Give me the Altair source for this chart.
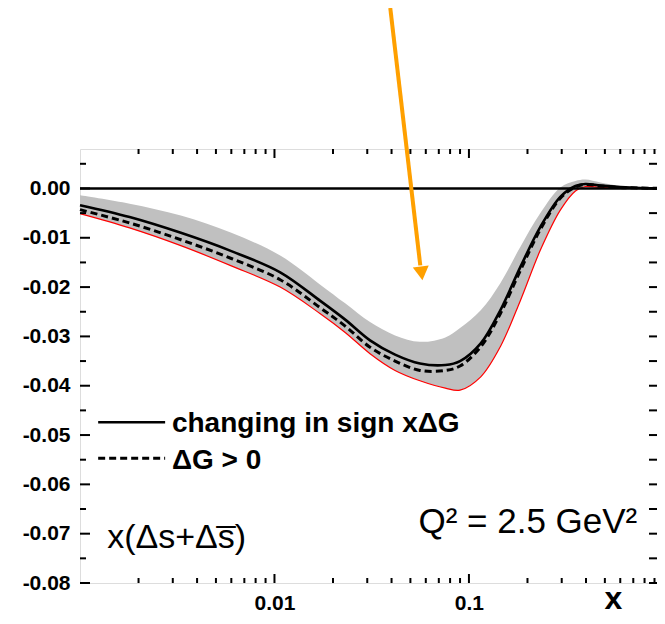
import altair as alt
import pandas as pd

FONT = "Liberation Sans"
W, H = 577, 434

# ---- curve data ----
x_vals = [0.001, 0.0018, 0.0033, 0.006, 0.0107, 0.0172, 0.0231, 0.031, 0.0417, 0.056, 0.0756, 0.09,
          0.115, 0.145, 0.184, 0.233, 0.295, 0.353, 0.397, 0.475, 0.60, 0.76, 1.0]
band_upper = [-0.0014, -0.0031, -0.0055, -0.0090, -0.0136, -0.0195, -0.0233, -0.0271, -0.0298, -0.0311, -0.0302,
              -0.0283, -0.0247, -0.0192, -0.0118, -0.0050, 0.0002, 0.0015, 0.0018, 0.0012, 0.0005, 0.0001, 0.0]
solid_vals = [-0.0034, -0.0058, -0.0090, -0.0127, -0.0170, -0.0228, -0.0266, -0.0308, -0.0337, -0.0355, -0.0358,
              -0.0350, -0.0314, -0.0247, -0.0159, -0.0078, -0.0017, 0.0005, 0.0009, 0.0006, 0.0003, 0.0001, 0.0]
dashed_vals = [-0.0043, -0.0070, -0.0104, -0.0142, -0.0185, -0.0242, -0.0279, -0.0322, -0.0350, -0.0369, -0.0369,
               -0.0360, -0.0321, -0.0254, -0.0166, -0.0083, -0.0020, 0.0003, 0.0008, 0.0005, 0.0002, 0.0001, 0.0]
band_lower = [-0.0051, -0.0080, -0.0116, -0.0157, -0.0200, -0.0254, -0.0292, -0.0335, -0.0369, -0.0390, -0.0405,
              -0.0409, -0.0382, -0.0321, -0.0227, -0.0125, -0.0044, -0.0005, 0.0004, 0.0002, 0.0, 0.0, 0.0]

# ---- axis ticks ----
y_labels = [-0.08, -0.07, -0.06, -0.05, -0.04, -0.03, -0.02, -0.01, 0.0]
y_minor = [-0.075, -0.065, -0.055, -0.045, -0.035, -0.025, -0.015, -0.005, 0.005]
x_labels = [0.01, 0.1]
x_major = [0.01, 0.1]
x_minor = [0.002, 0.003, 0.004, 0.005, 0.006, 0.007, 0.008, 0.009,
           0.02, 0.03, 0.04, 0.05, 0.06, 0.07, 0.08, 0.09,
           0.2, 0.3, 0.4, 0.5, 0.6, 0.7, 0.8, 0.9]

# ---- legend / annotations ----
legend_x0 = [0.00124, 0.00124]
legend_x1 = [0.00274, 0.00274]
legend_y = [-0.0474, -0.0547]
legend_text = ["changing in sign x\u0394G", "\u0394G > 0"]
legend_text_x = [0.00297, 0.00297]
legend_text_y = [-0.0478, -0.0553]

annot_text = ["x(\u0394s+\u0394s\u0305)", "Q\u00b2 = 2.5 GeV\u00b2"]
annot_x = [0.00138, 0.055]
annot_y = [-0.0730, -0.0699]

arrow_x = [0.0394, 0.0562]
arrow_y = [0.0366, -0.0156]
arrow_head_x = [0.0571]
arrow_head_y = [-0.0172]

xs = alt.Scale(type="log", domain=[0.001, 0.927], nice=False)
ys = alt.Scale(domain=[-0.08, 0.008], nice=False, zero=False)

x_axis = alt.Axis(values=x_labels, format="g", ticks=False, tickSize=0, domain=False, grid=False,
                  labelFont=FONT, labelFontSize=21, labelFontWeight="bold", labelColor="black",
                  labelPadding=9, labelFlush=False, title="x", titleFont=FONT, titleFontSize=32,
                  titleFontWeight="bold", titleColor="black", titleX=533, titleY=25,
                  titleBaseline="alphabetic", titleAlign="center")
y_axis = alt.Axis(values=y_labels, ticks=False, tickSize=0, domain=False, grid=False,
                  labelExpr="replace(format(datum.value, '.2f'), '\u2212', '-')",
                  labelFont=FONT, labelFontSize=21, labelFontWeight="bold", labelColor="black",
                  labelPadding=10, title=None)


def X(field="x"):
    return alt.X(f"{field}:Q", scale=xs, axis=x_axis)


def Y(field="y"):
    return alt.Y(f"{field}:Q", scale=ys, axis=y_axis)


curves = pd.DataFrame({"x": x_vals, "up": band_upper, "lo": band_lower,
                       "solid": solid_vals, "dashed": dashed_vals})
INTERP = "catmull-rom"
base = alt.Chart(curves)
band = base.mark_area(color="#c0c0c0", interpolate=INTERP).encode(x=X(), y=Y("up"), y2="lo:Q")
red = base.mark_line(color="#ff0000", strokeWidth=1.2, interpolate=INTERP).encode(x=X(), y=Y("lo"))
zero = alt.Chart(pd.DataFrame({"y": [0.0]})).mark_rule(color="black", strokeWidth=2.5).encode(y=Y())
solid = base.mark_line(color="black", strokeWidth=2.6, interpolate=INTERP).encode(x=X(), y=Y("solid"))
dashed = base.mark_line(color="black", strokeWidth=3, strokeDash=[7, 4], interpolate=INTERP).encode(
    x=X(), y=Y("dashed"))


# ticks pointing inward
def xticks(vals, length):
    d = alt.Chart(pd.DataFrame({"x": vals}))
    bot = d.mark_rule(color="black", strokeWidth=2).encode(x=X(), y=alt.value(H), y2=alt.value(H - length))
    top = d.mark_rule(color="black", strokeWidth=2).encode(x=X(), y=alt.value(0), y2=alt.value(length))
    return [bot, top]


def yticks(vals, length_l, length_r):
    d = alt.Chart(pd.DataFrame({"y": vals}))
    left = d.mark_rule(color="black", strokeWidth=2).encode(y=Y(), x=alt.value(0), x2=alt.value(length_l))
    right = d.mark_rule(color="black", strokeWidth=2).encode(y=Y(), x=alt.value(W), x2=alt.value(W - length_r))
    return [left, right]


tick_layers = xticks(x_major, 9) + xticks(x_minor, 5) + yticks(y_labels, 10, 8) + yticks(y_minor, 6, 8)

leg_solid = alt.Chart(pd.DataFrame({"x": legend_x0[:1], "x1": legend_x1[:1], "y": legend_y[:1]})).mark_rule(
    color="black", strokeWidth=2.6).encode(x=X(), x2="x1:Q", y=Y())
leg_dash = alt.Chart(pd.DataFrame({"x": legend_x0[1:], "x1": legend_x1[1:], "y": legend_y[1:]})).mark_rule(
    color="black", strokeWidth=3, strokeDash=[7, 4]).encode(x=X(), x2="x1:Q", y=Y())
leg_txt = alt.Chart(pd.DataFrame({"x": legend_text_x, "y": legend_text_y, "t": legend_text})).mark_text(
    align="left", baseline="middle", font=FONT, fontSize=28, fontWeight="bold", color="black").encode(
    x=X(), y=Y(), text="t:N")

ann_a = alt.Chart(pd.DataFrame({"x": annot_x[:1], "y": annot_y[:1], "t": annot_text[:1]})).mark_text(
    align="left", baseline="alphabetic", font=FONT, fontSize=34, color="black").encode(
    x=X(), y=Y(), text="t:N")
ann_q = alt.Chart(pd.DataFrame({"x": annot_x[1:], "y": annot_y[1:], "t": annot_text[1:]})).mark_text(
    align="left", baseline="alphabetic", font=FONT, fontSize=35, color="black").encode(
    x=X(), y=Y(), text="t:N")

arrow_line = alt.Chart(pd.DataFrame({"x": arrow_x, "y": arrow_y})).mark_line(
    color="#ffa000", strokeWidth=4).encode(x=X(), y=Y())
arrow_head = alt.Chart(pd.DataFrame({"x": arrow_head_x, "y": arrow_head_y})).mark_point(
    shape="triangle-down", size=256, filled=True, opacity=1, color="#ffa000", angle=353).encode(
    x=X(), y=Y())

chart = alt.layer(band, red, zero, solid, dashed, *tick_layers, leg_solid, leg_dash, leg_txt,
                  ann_a, ann_q, arrow_line, arrow_head).properties(
    width=W, height=H,
    autosize=alt.AutoSizeParams(type="none"),
    padding={"left": 72, "top": 141, "right": 0, "bottom": 33},
).configure_view(stroke="black", strokeWidth=2.5).configure(background="white")

chart.save("out.html", embed_options={"renderer": "svg", "actions": False})
